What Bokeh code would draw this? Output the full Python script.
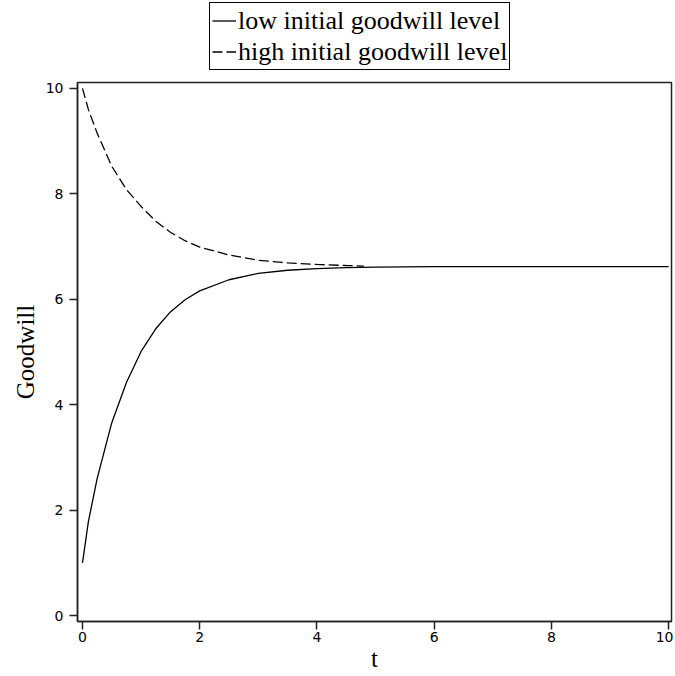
from bokeh.plotting import figure
from bokeh.layouts import column
from bokeh.models import Range1d, FixedTicker, Legend, LegendItem
from bokeh.embed import file_html
from bokeh.resources import INLINE

# data
t_low = [0.0, 0.1, 0.25, 0.5, 0.75, 1.0, 1.25, 1.5, 1.75, 2.0, 2.5, 3.0, 3.5, 4.0, 4.5, 5.0, 6.0, 7.0, 8.0, 9.0, 10.0]
g_low = [1.00, 1.78, 2.60, 3.66, 4.42, 5.01, 5.44, 5.76, 5.99, 6.16, 6.37, 6.49, 6.55, 6.58, 6.60, 6.61, 6.62, 6.62, 6.62, 6.62, 6.62]
t_high = [0.0, 0.1, 0.25, 0.5, 0.75, 1.0, 1.25, 1.5, 1.75, 2.0, 2.5, 3.0, 3.5, 4.0, 4.5, 4.8]
g_high = [10.00, 9.60, 9.15, 8.52, 8.08, 7.76, 7.48, 7.27, 7.11, 6.99, 6.84, 6.74, 6.69, 6.66, 6.64, 6.63]
ticks = [0, 2, 4, 6, 8, 10]
series_names = ["low initial goodwill level", "high initial goodwill level"]

LOW_STYLE = dict(line_color="black", line_width=1.3)
HIGH_STYLE = dict(line_color="black", line_width=1.3, line_dash="10 4")

W = 673

# ---- legend strip (separate figure so the legend is not clipped by the plot frame);
# its renderers hold the same series but lie outside this strip's visible range
lp = figure(width=W, height=74, output_backend="svg", toolbar_location=None,
            x_range=Range1d(-0.085, 10.05), y_range=Range1d(100, 101),
            min_border_left=0, min_border_right=0, min_border_top=0, min_border_bottom=0)
lp.axis.visible = False
lp.grid.visible = False
lp.outline_line_color = None
lr1 = lp.line(t_low, g_low, **LOW_STYLE)
lr2 = lp.line(t_high, g_high, **HIGH_STYLE)
legend = Legend(items=[LegendItem(label=series_names[0], renderers=[lr1]),
                       LegendItem(label=series_names[1], renderers=[lr2])],
                location=(132, 4))
legend.border_line_color = "black"
legend.border_line_alpha = 1
legend.border_line_width = 1.5
legend.background_fill_alpha = 1
legend.padding = 2
legend.spacing = 0
legend.margin = 0
legend.glyph_width = 24
legend.glyph_height = 31
legend.label_height = 31
legend.label_standoff = 2
legend.label_text_font = "Liberation Serif"
legend.label_text_font_size = "26px"
legend.label_text_color = "black"
lp.add_layout(legend, "center")

# ---- main plot
p = figure(width=W, height=600, output_backend="svg", toolbar_location=None,
           x_range=Range1d(-0.085, 10.05), y_range=Range1d(-0.11, 10.11),
           min_border_left=77, min_border_right=2, min_border_top=8, min_border_bottom=52)
p.grid.visible = False
p.outline_line_color = "#222222"
p.outline_line_width = 1.5

p.line(t_low, g_low, **LOW_STYLE)
p.line(t_high, g_high, **HIGH_STYLE)

for ax in (p.xaxis[0], p.yaxis[0]):
    ax.ticker = FixedTicker(ticks=ticks)
    ax.minor_tick_line_color = None
    ax.major_tick_in = 0
    ax.major_tick_out = 8
    ax.major_tick_line_color = "#222222"
    ax.major_tick_line_width = 1.5
    ax.axis_line_color = "#222222"
    ax.axis_line_width = 1.5
    ax.major_label_text_font = "DejaVu Sans"
    ax.major_label_text_font_size = "14px"
    ax.major_label_text_color = "black"
    ax.axis_label_text_font = "Liberation Serif"
    ax.axis_label_text_font_size = "25px"
    ax.axis_label_text_font_style = "normal"
    ax.axis_label_text_color = "black"

p.xaxis.axis_label = "t"
p.yaxis.axis_label = "Goodwill"
p.xaxis.major_label_standoff = 2
p.yaxis.major_label_standoff = 6
p.xaxis.axis_label_standoff = 0
p.yaxis.axis_label_standoff = 4

layout = column(lp, p, spacing=0)
open("out.html", "w").write(file_html(layout, INLINE))
